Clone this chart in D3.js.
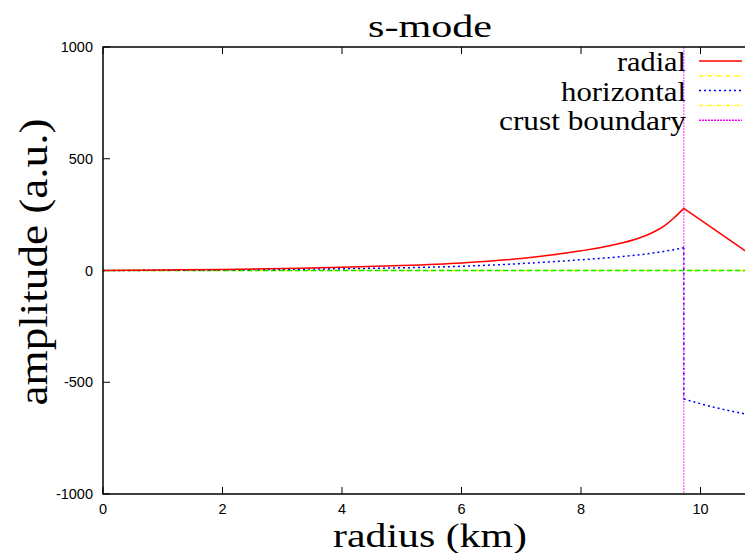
<!DOCTYPE html>
<html>
<head>
<meta charset="utf-8">
<script src="https://cdn.jsdelivr.net/npm/d3@7"></script>
<style>
  body { margin: 0; background: #fff; }
  svg { display: block; }
</style>
</head>
<body>
<div id="chart"></div>
<script>
// s-mode eigenfunction
const radiusIn = [0, 1, 2, 3, 4, 5, 6, 7, 7.5, 8, 8.5, 9, 9.2, 9.4, 9.55, 9.72]
const radialIn = [0, 2, 5, 9, 14, 22, 34, 54, 69, 88, 112, 148, 170, 201, 234, 278]
const horizontalIn = [0, 1, 3, 5, 8, 12, 19, 31, 39, 48, 58, 71, 78, 86, 93, 102]
const radiusOut = [9.72, 10.2, 10.75]
const radialOut = [278, 190, 88]
const horizontalOut = [-575, -610, -642]
const crustBoundary = 9.72
const xTicks = [0, 2, 4, 6, 8, 10]
const yTicks = [-1000, -500, 0, 500, 1000]

const width = 745, height = 553
const margin = { top: 47, left: 103, bottom: 59 }

const svg = d3.select('#chart').append('svg').attr('width', width).attr('height', height)

const x = d3.scaleLinear().domain([0, 10.75]).range([margin.left, margin.left + 59.75 * 10.75])
const y = d3.scaleLinear().domain([-1000, 1000]).range([height - margin.bottom, margin.top])

svg.append('clipPath').attr('id', 'plot')
    .append('rect').attr('x', margin.left).attr('y', margin.top)
    .attr('width', width - margin.left).attr('height', height - margin.bottom - margin.top)

// ticks (inward, mirrored on top)
const tickG = svg.append('g').attr('stroke', '#000').attr('stroke-width', 1)
xTicks.forEach(t => {
    tickG.append('line').attr('x1', x(t)).attr('x2', x(t)).attr('y1', y(-1000)).attr('y2', y(-1000) - 7)
    tickG.append('line').attr('x1', x(t)).attr('x2', x(t)).attr('y1', y(1000)).attr('y2', y(1000) + 7)
})
yTicks.forEach(t => {
    tickG.append('line').attr('x1', x(0)).attr('x2', x(0) + 7).attr('y1', y(t)).attr('y2', y(t))
})

const sans = "'Liberation Sans', Arial, sans-serif"
svg.append('g').selectAll('text').data(xTicks).enter().append('text')
    .attr('x', d => x(d)).attr('y', 514).attr('text-anchor', 'middle')
    .style('font-family', sans).style('font-size', '14.5px')
    .text(d => d)
svg.append('g').selectAll('text').data(yTicks).enter().append('text')
    .attr('x', 93).attr('y', d => y(d) + 5).attr('text-anchor', 'end')
    .style('font-family', sans).style('font-size', '14.5px')
    .text(d => d)

const plot = svg.append('g').attr('clip-path', 'url(#plot)')

// zero lines
plot.append('line').attr('x1', x(0)).attr('x2', width).attr('y1', y(0)).attr('y2', y(0))
    .attr('stroke', '#ffff00').attr('stroke-width', 1.5).attr('stroke-dasharray', '6,2,2,2')
plot.append('line').attr('x1', x(0)).attr('x2', width).attr('y1', y(0)).attr('y2', y(0))
    .attr('stroke', '#00ee00').attr('stroke-width', 1.5).attr('stroke-dasharray', '5,3')

const smooth = d3.line().x(d => x(d[0])).y(d => y(d[1])).curve(d3.curveMonotoneX)
const straight = d3.line().x(d => x(d[0])).y(d => y(d[1]))

// horizontal (blue dotted)
const blue = { stroke: '#0000ff', dash: '2,3' }
plot.append('path').attr('d', smooth(d3.zip(radiusIn, horizontalIn)))
    .attr('fill', 'none').attr('stroke', blue.stroke).attr('stroke-width', 1.5).attr('stroke-dasharray', blue.dash)
plot.append('path').attr('d', straight([[crustBoundary, horizontalIn[horizontalIn.length - 1]], [crustBoundary, horizontalOut[0]]]))
    .attr('fill', 'none').attr('stroke', blue.stroke).attr('stroke-width', 1.5).attr('stroke-dasharray', blue.dash)
plot.append('path').attr('d', smooth(d3.zip(radiusOut, horizontalOut)))
    .attr('fill', 'none').attr('stroke', blue.stroke).attr('stroke-width', 1.5).attr('stroke-dasharray', blue.dash)

// radial (red solid)
plot.append('path').attr('d', smooth(d3.zip(radiusIn, radialIn)))
    .attr('fill', 'none').attr('stroke', '#ff0000').attr('stroke-width', 1.5)
plot.append('path').attr('d', straight(d3.zip(radiusOut, radialOut)))
    .attr('fill', 'none').attr('stroke', '#ff0000').attr('stroke-width', 1.5)

// crust boundary
plot.append('line').attr('x1', x(crustBoundary)).attr('x2', x(crustBoundary))
    .attr('y1', y(1000)).attr('y2', y(-1000))
    .attr('stroke', '#ff00ff').attr('stroke-opacity', 0.55).attr('stroke-width', 1.5).attr('stroke-dasharray', '2,1')

// frame
svg.append('path')
    .attr('d', `M${width},${y(1000)}H${x(0)}V${y(-1000)}H${width}`)
    .attr('fill', 'none').attr('stroke', '#000').attr('stroke-width', 1.5)

// legend
const serif = "'Liberation Serif', 'Times New Roman', Times, serif"
const legend = [
    { label: 'radial', color: '#ff0000', dash: null, w: 69 },
    { label: '', color: '#ffff00', dash: '4,2,1,2' },
    { label: 'horizontal', color: '#0000ff', dash: '2,3', w: 125 },
    { label: '', color: '#ffff00', dash: '4,2,1,2' },
    { label: 'crust boundary', color: '#ff00ff', dash: '2,1', w: 187 }
]
const lg = svg.append('g')
legend.forEach((d, i) => {
    const cy = 61 + i * 14.8
    lg.append('line').attr('x1', 699).attr('x2', 742).attr('y1', cy).attr('y2', cy)
        .attr('stroke', d.color).attr('stroke-width', 1.5).attr('stroke-dasharray', d.dash)
    if (d.label) {
        lg.append('text').attr('x', 686).attr('y', cy + 10).attr('text-anchor', 'end')
            .style('font-family', serif).style('font-size', '27px')
            .attr('textLength', d.w).attr('lengthAdjust', 'spacingAndGlyphs').text(d.label)
    }
})

// titles
svg.append('text').attr('x', 430).attr('y', 37).attr('text-anchor', 'middle')
    .style('font-family', serif).style('font-size', '32px')
    .attr('textLength', 124).attr('lengthAdjust', 'spacingAndGlyphs').text('s-mode')
svg.append('text').attr('x', 430).attr('y', 547).attr('text-anchor', 'middle')
    .style('font-family', serif).style('font-size', '33px')
    .attr('textLength', 194).attr('lengthAdjust', 'spacingAndGlyphs').text('radius (km)')
svg.append('text').attr('transform', 'translate(47,262) rotate(-90)').attr('text-anchor', 'middle')
    .style('font-family', serif).style('font-size', '40px')
    .attr('textLength', 287).attr('lengthAdjust', 'spacingAndGlyphs').text('amplitude (a.u.)')
</script>
</body>
</html>
